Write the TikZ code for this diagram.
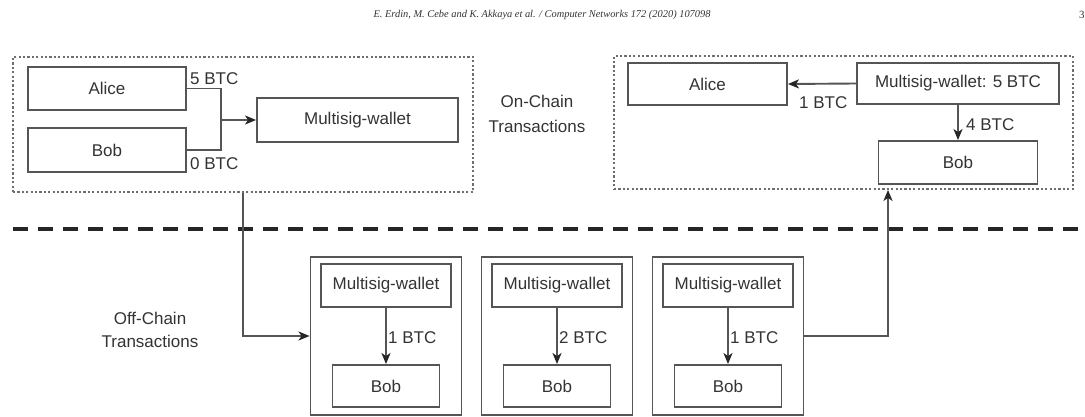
\documentclass[tikz,border=0pt]{standalone}
\usepackage{fontspec}
\setmainfont{Liberation Sans}
\newfontfamily\headfont{Liberation Serif}
\usetikzlibrary{arrows.meta,calc}
\definecolor{linegray}{HTML}{555555}
\definecolor{txt}{HTML}{333333}
\definecolor{tipc}{HTML}{262626}
\begin{document}
\begin{tikzpicture}[x=1pt,y=-1pt,
  box/.style={draw=linegray,line width=1.9pt,inner sep=0pt,text=txt,
    font=\fontsize{17}{20}\selectfont},
  obox/.style={draw=linegray,line width=1.9pt,inner sep=0pt},
  dotbox/.style={draw=linegray!85,line width=1.8pt,inner sep=0pt,
    dash pattern=on 2.2pt off 2.2pt},
  lbl/.style={inner sep=0pt,text=txt,font=\fontsize{17}{20}\selectfont},
  conn/.style={draw=linegray,line width=1.9pt},
  arr/.style={conn,-{Stealth[length=11pt,width=9pt,inset=3pt,color=tipc]}},
  sep/.style={draw=tipc,line width=4pt,dash pattern=on 15pt off 10pt}]
\useasboundingbox (0,0) rectangle (1085,417);

% header
\node[inner sep=0pt,text=txt,font=\headfont\itshape\fontsize{10.4}{13}\selectfont] (hdr) at (542,15)
  {E. Erdin, M. Cebe and K. Akkaya et al. / Computer Networks 172 (2020) 107098};
\node[anchor=west,inner sep=0pt,text=txt,font=\headfont\fontsize{11}{13}\selectfont] (pg) at (1079,15) {3};

% left on-chain group
\node[dotbox,minimum width=460,minimum height=135] (onL) at (243,124.5) {};
\node[box,minimum width=158,minimum height=43] (aliceL) at (107,88.5) {Alice};
\node[box,minimum width=158,minimum height=44] (bobL) at (107,150) {Bob};
\node[box,minimum width=201,minimum height=44] (mwL) at (357.5,120) {Multisig-wallet};
\coordinate (jL) at (221,120);
\draw[conn] (aliceL.east) -| (jL);
\draw[conn] (bobL.east) -| (jL);
\draw[arr] (jL) -- (mwL.west);
\node[lbl,anchor=base west] (l5) at ($(aliceL.east)+(3,-4)$) {5 BTC};
\node[lbl,anchor=base west] (l0) at ($(bobL.east)+(3,20)$) {0 BTC};

% on-chain label
\node[lbl,align=center,font=\fontsize{17}{25}\selectfont] (onlab) at (537,114) {On-Chain\\Transactions};

% right on-chain group
\node[dotbox,minimum width=459,minimum height=133] (onR) at (843.5,122.5) {};
\node[box,minimum width=159,minimum height=42] (aliceR) at (707.5,84) {Alice};
\node[box,minimum width=202,minimum height=41] (mwR) at (958,83.5) {Multisig-wallet: 5 BTC};
\node[box,minimum width=159,minimum height=43] (bobR) at (958,162.5) {Bob};
\draw[arr] (mwR.west) -- (aliceR.east);
\node[lbl,anchor=base west] (l1R) at (799,109) {1 BTC};
\draw[arr] (mwR.south) -- (bobR.north);
\node[lbl,anchor=base west] (l4R) at (966,131) {4 BTC};

% separator
\coordinate (sl) at (13,229);
\coordinate (sr) at (1085,229);
\draw[sep] (sl) -- (sr);

% off-chain label
\node[lbl,align=center,font=\fontsize{17}{23}\selectfont] (offlab) at (150,330) {Off-Chain\\Transactions};

% off-chain boxes
\foreach \i/\cx/\v in {1/386/1,2/557/2,3/728/1}{
  \node[obox,minimum width=151,minimum height=158] (o\i) at (\cx,336) {};
  \node[box,minimum width=130,minimum height=43] (m\i) at (\cx,285.5) {Multisig-wallet};
  \node[box,minimum width=107,minimum height=42] (b\i) at (\cx,386) {Bob};
  \draw[arr] (m\i.south) -- (b\i.north);
  \node[lbl,anchor=base west] (t\i) at ($(m\i.south)+(2,36)$) {\v\ BTC};
}

% connectors between layers
\coordinate (cL) at (243,0);
\coordinate (cR) at (888,0);
\draw[arr] (onL.south -| cL) |- (o1.west);
\draw[arr] (o3.east) -| (onR.south -| cR);
\end{tikzpicture}
\end{document}
